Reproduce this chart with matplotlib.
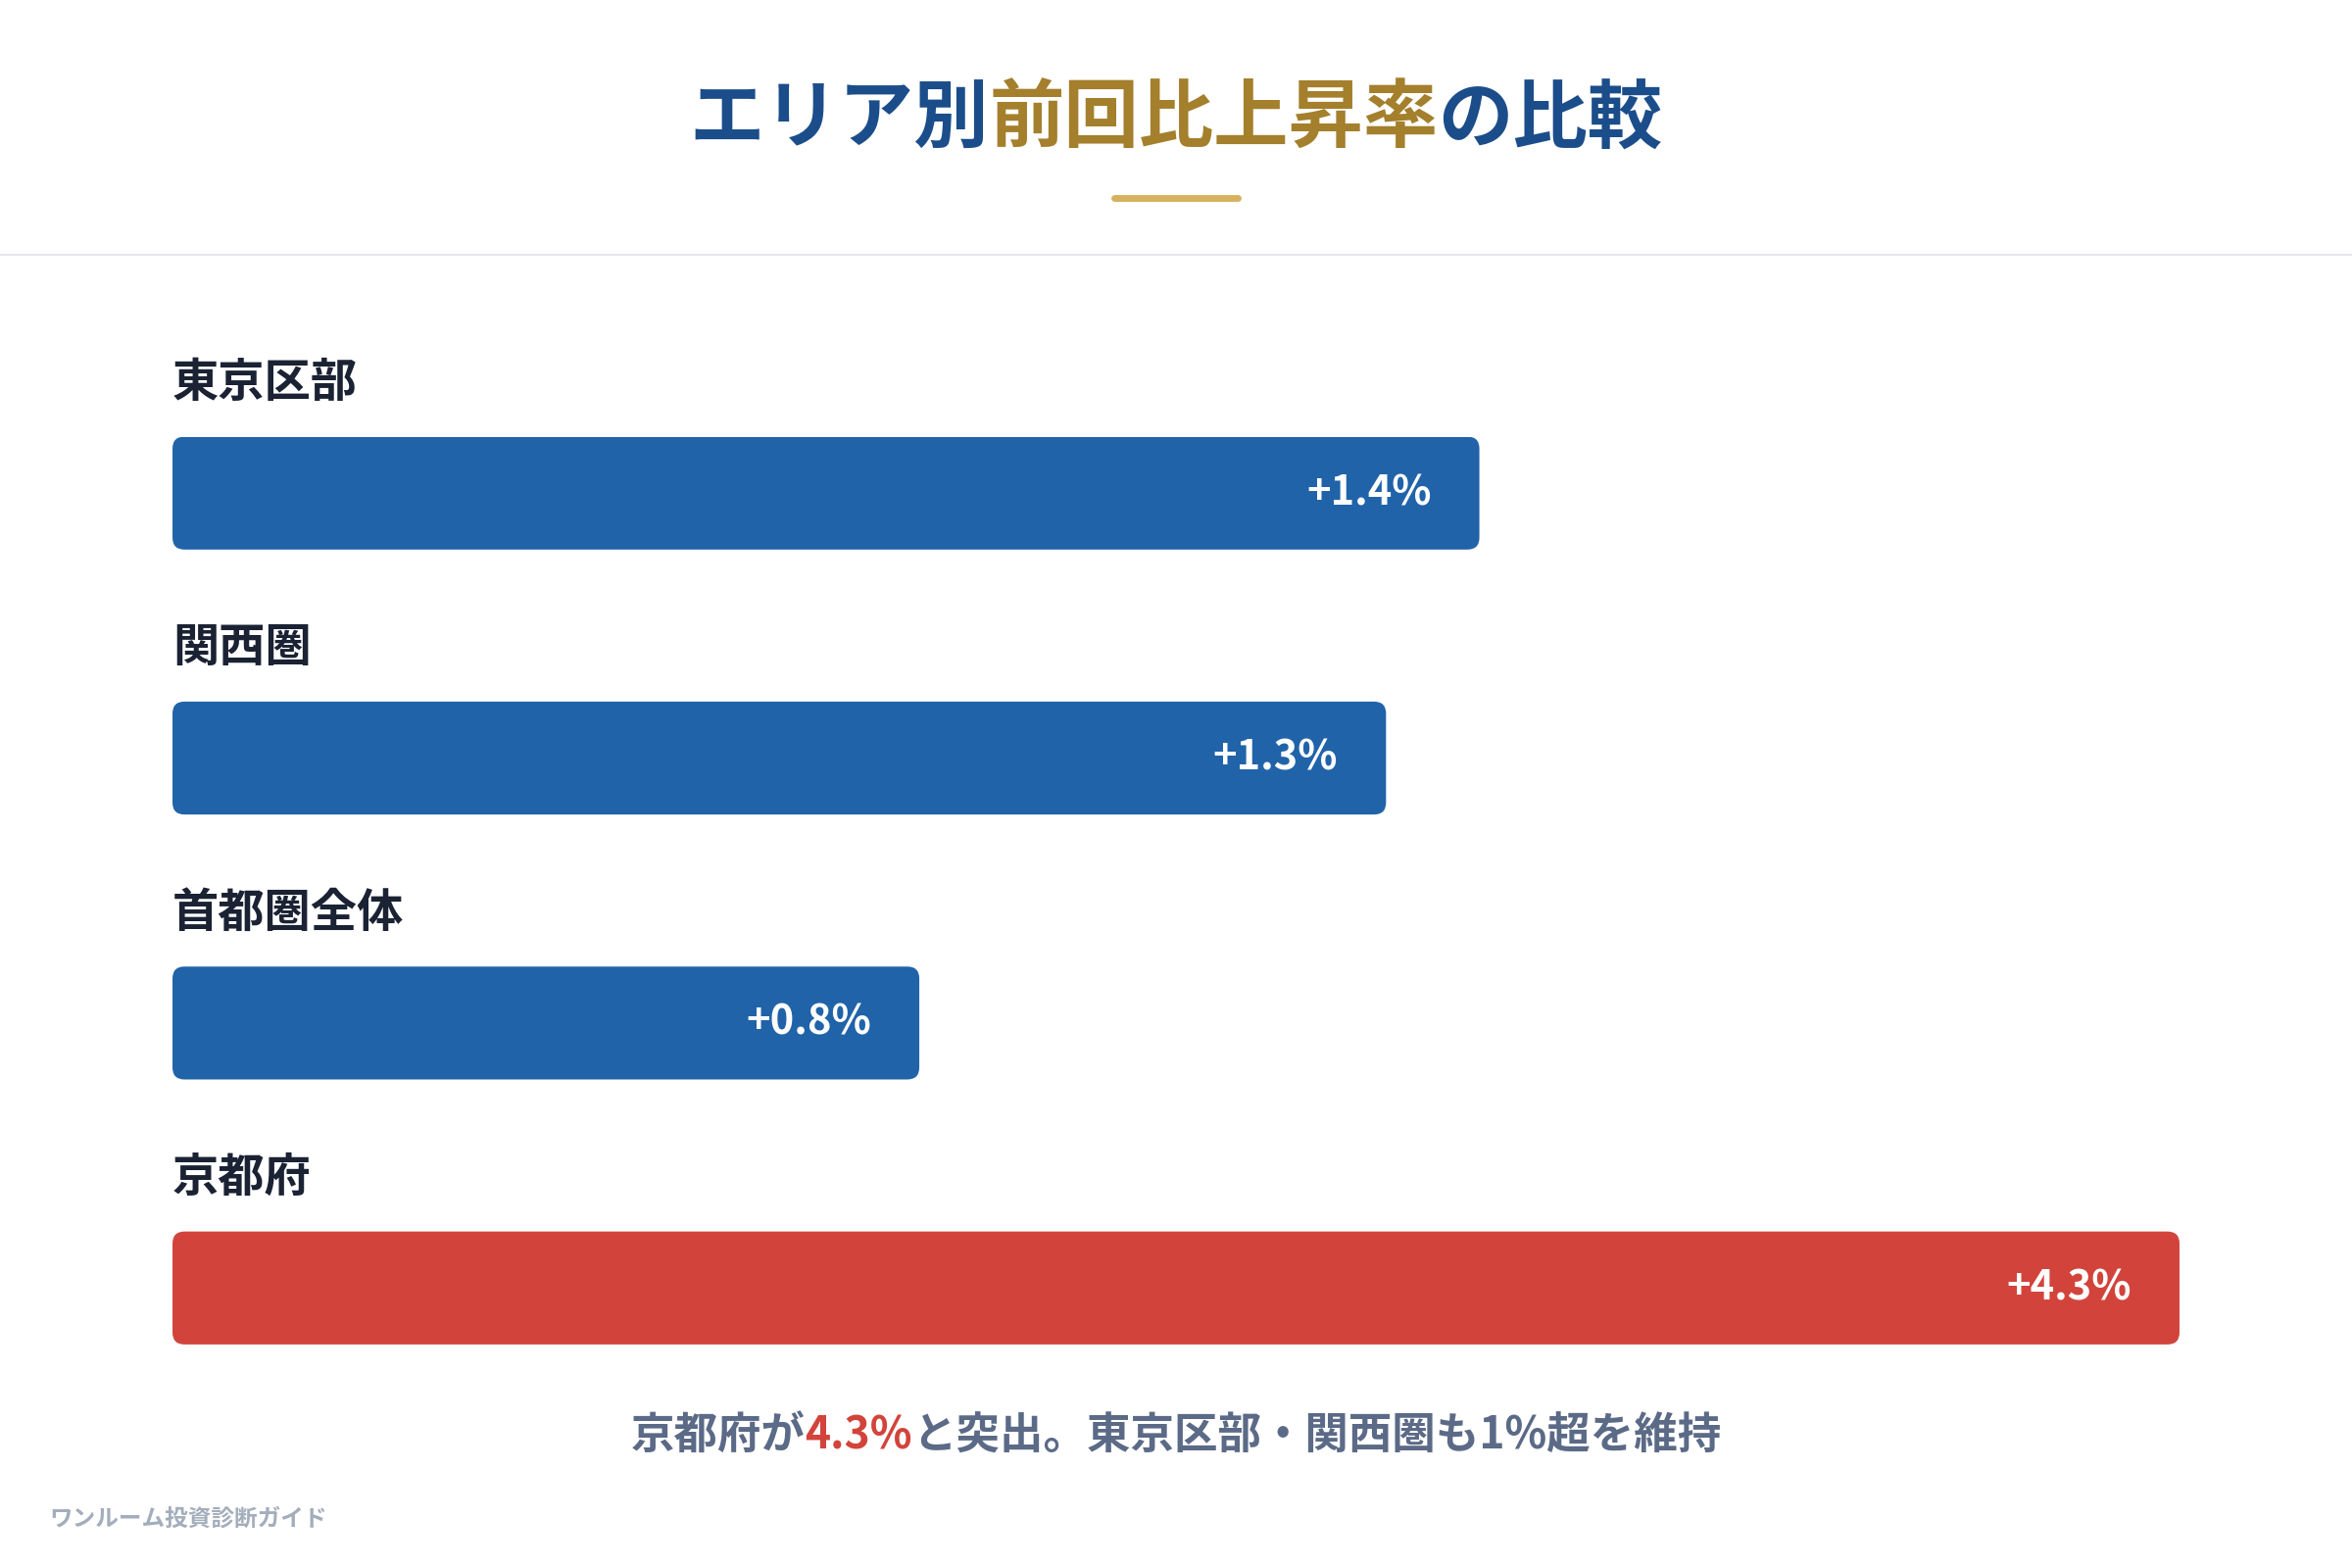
import matplotlib
matplotlib.use("Agg")
import matplotlib.pyplot as plt
from matplotlib.patches import FancyBboxPatch

categories = ["東京区部", "関西圏", "首都圏全体", "京都府"]
values = [1.4, 1.3, 0.8, 4.3]
labels = ["+1.4%", "+1.3%", "+0.8%", "+4.3%"]
colors = ["#2063a9", "#2063a9", "#2063a9", "#d2443b"]
scale_max = 2.15  # bar length cap (display scale)

FONT = ["Noto Sans CJK JP", "DejaVu Sans"]
NAVY = "#1b4d8a"; GOLD = "#a47f2c"; DARK = "#1a2233"; GRAY = "#5b6a86"; RED = "#d2443b"

W, H = 1568, 1045
fig = plt.figure(figsize=(24, 16), dpi=100)
fig.patch.set_facecolor("white")

def fx(x): return x / W
def fy(y): return 1 - y / H

def multi_text(parts, cx, y, size):
    r = fig.canvas.get_renderer()
    objs = [fig.text(0, fy(y), s, color=c, fontsize=size, fontweight="bold",
                     family=FONT, va="center", ha="left") for s, c in parts]
    widths = [o.get_window_extent(r).width / fig.bbox.width for o in objs]
    x = fx(cx) - sum(widths) / 2
    for o, w in zip(objs, widths):
        o.set_x(x); x += w

multi_text([("エリア別", NAVY), ("前回比上昇率", GOLD), ("の比較", NAVY)], 784, 80, 55)
fig.add_artist(plt.Line2D([fx(743), fx(825)], [fy(132)] * 2, color="#d4b25e", lw=5,
                          solid_capstyle="round"))
fig.add_artist(plt.Line2D([0, 1], [fy(170)] * 2, color="#e6e8ec", lw=1.5))

pitch = 176
top, bot = 291, 896
ax = fig.add_axes([fx(115), fy(bot), fx(1453 - 115), (bot - top) / H])
ax.set_xlim(0, scale_max)
ax.set_ylim(3 + 37.5 / pitch, -37.5 / pitch)
ax.axis("off")
bh = 75 / pitch
xr = 8 * scale_max / 1338
yr = 8 / pitch
for i, (cat, v, lab, c) in enumerate(zip(categories, values, labels, colors)):
    L = min(v, scale_max)
    ax.add_patch(FancyBboxPatch((0, i - bh / 2), L, bh,
                                boxstyle=f"round,pad=0,rounding_size={xr}",
                                mutation_aspect=yr / xr, fc=c, ec="none"))
    ax.text(L - 32 * scale_max / 1338, i, lab, color="white", fontsize=30,
            fontweight="bold", family=FONT, ha="right", va="center")
    ax.text(0, i - 73 / pitch, cat, color=DARK, fontsize=34, fontweight="bold",
            family=FONT, ha="left", va="center", clip_on=False)

multi_text([("京都府が", GRAY), ("4.3%", RED), ("と突出。東京区部・関西圏も1%超を維持", GRAY)],
           784, 957, 32)
fig.text(fx(33), fy(1012), "ワンルーム投資診断ガイド", color="#a3adbb", fontsize=17,
         fontweight="bold", family=FONT, va="center", ha="left")

fig.savefig("out.png", dpi=100, facecolor="white")
